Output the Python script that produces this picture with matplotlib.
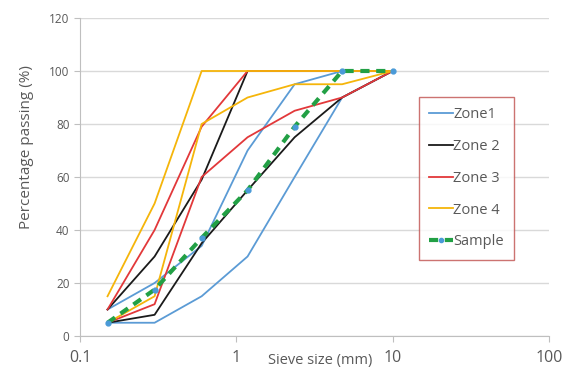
import matplotlib
matplotlib.use("Agg")
from matplotlib import pyplot as plt
from matplotlib.lines import Line2D

# sieve sizes (mm)
sieves = [0.15, 0.3, 0.6, 1.18, 2.36, 4.75, 10]

# grading limits, lower and upper, % passing
zone1_low = [5, 5, 15, 30, 60, 90, 100]
zone1_high = [10, 20, 34, 70, 95, 100, 100]
zone2_low = [5, 8, 35, 55, 75, 90, 100]
zone2_high = [10, 30, 59, 100, 100, 100, 100]
zone3_low = [5, 12, 60, 75, 85, 90, 100]
zone3_high = [10, 40, 79, 100, 100, 100, 100]
zone4_low = [5, 15, 80, 90, 95, 95, 100]
zone4_high = [15, 50, 100, 100, 100, 100, 100]
sample = [5, 17.5, 37, 55, 79, 100, 100]

zone_names = ["Zone1", "Zone 2", "Zone 3", "Zone 4"]
zone_colors = ["#5b9bd5", "#1a1a1a", "#e2383a", "#f5b50a"]
zone_data = [
    (zone1_low, zone1_high),
    (zone2_low, zone2_high),
    (zone3_low, zone3_high),
    (zone4_low, zone4_high),
]

plt.rcParams["font.family"] = ["Open Sans", "DejaVu Sans"]
text_col = "#595959"
green = "#22a045"
dash = (0, (2.2, 1.6))

fig = plt.figure(figsize=(5.69, 3.69), dpi=100)
ax = fig.add_axes([80 / 569, 33 / 369, 469 / 569, 318 / 369])

for (low, high), col in zip(zone_data, zone_colors):
    ax.plot(sieves, low, color=col, lw=1.3, zorder=3)
    ax.plot(sieves, high, color=col, lw=1.3, zorder=3)

ax.plot(sieves, sample, color=green, lw=3, ls=dash,
        marker="o", ms=3.5, mfc="#4a9ad8", mec="#4a9ad8", zorder=4)

ax.set_xscale("log")
ax.set_xlim(0.1, 100)
ax.set_ylim(0, 120)
ax.set_yticks(range(0, 121, 20))
ax.set_xticks([0.1, 1, 10, 100])
ax.set_xticklabels(["0.1", "1", "10", "100"])
ax.minorticks_off()
ax.grid(axis="y", color="#d9d9d9", lw=1)
ax.set_axisbelow(True)

for s in ["top", "right"]:
    ax.spines[s].set_visible(False)
for s in ["left", "bottom"]:
    ax.spines[s].set_color("#bfbfbf")

ax.tick_params(axis="y", colors="#bfbfbf", labelcolor=text_col, labelsize=8.5, length=4)
ax.tick_params(axis="x", colors="#bfbfbf", labelcolor=text_col, labelsize=11.5, length=4, pad=6)

ax.set_ylabel("Percentage passing (%)", color=text_col, fontsize=11)
ax.yaxis.set_label_coords(-0.098, 0.594)
ax.set_xlabel("Sieve size (mm)", color=text_col, fontsize=10.5)
ax.xaxis.set_label_coords(0.512, -0.055)

handles = [Line2D([], [], color=c, lw=1.3) for c in zone_colors]
handles.append(Line2D([], [], color=green, lw=3, ls=dash,
                      marker="o", ms=3, mfc="#4a9ad8", mec="#4a9ad8"))
leg = fig.legend(handles, zone_names + ["Sample"], loc="upper left",
                 bbox_to_anchor=(419 / 569, 1 - 97 / 369), borderaxespad=0,
                 fontsize=10.5, frameon=True, fancybox=False,
                 handlelength=1.6, handletextpad=0.05,
                 labelspacing=1.15, borderpad=0.7, labelcolor=text_col)
leg.get_frame().set_edgecolor("#c0504d")
leg.get_frame().set_linewidth(1)

fig.savefig("out.png", dpi=100)
